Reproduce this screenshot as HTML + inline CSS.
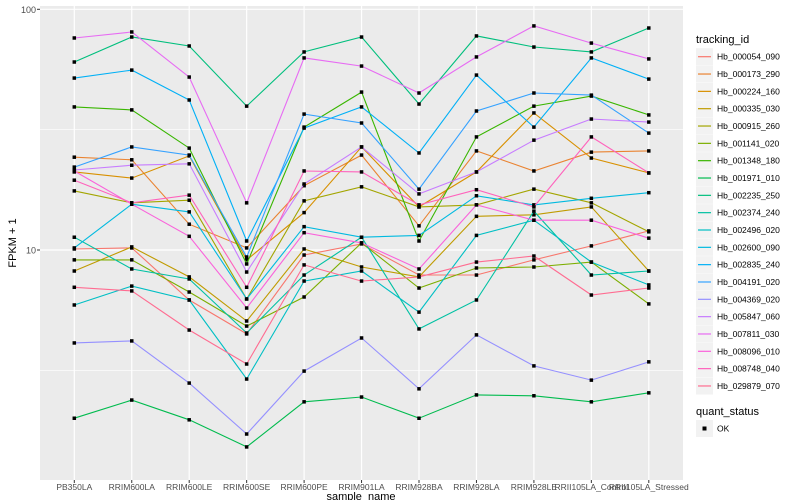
<!DOCTYPE html>
<html><head><meta charset="utf-8"><style>
body{margin:0;background:#fff;}
svg{display:block;font-family:"Liberation Sans",sans-serif;}
</style></head><body>
<svg id="chart" width="800" height="500" viewBox="0 0 800 500">
<rect x="40" y="6" width="643" height="474" fill="#ebebeb"/>
<g id="grid"></g><g id="series"></g><g id="axes"></g><g id="legend"></g>
</svg>
<script>
const categories=["PB350LA","RRIM600LA","RRIM600LE","RRIM600SE","RRIM600PE","RRIM901LA","RRIM928BA","RRIM928LA","RRIM928LE","RRII105LA_Control","RRII105LA_Stressed"];
const seriesNames=["Hb_000054_090","Hb_000173_290","Hb_000224_160","Hb_000335_030","Hb_000915_260","Hb_001141_020","Hb_001348_180","Hb_001971_010","Hb_002235_250","Hb_002374_240","Hb_002496_020","Hb_002600_090","Hb_002835_240","Hb_004191_020","Hb_004369_020","Hb_005847_060","Hb_007811_030","Hb_008096_010","Hb_008748_040","Hb_029879_070"];
const colors=["#F8766D","#EA8331","#D89000","#C09B00","#A3A500","#7CAE00","#39B600","#00BB4E","#00BF7D","#00C1A3","#00BFC4","#00BAE0","#00B0F6","#35A2FF","#9590FF","#C77CFF","#E76BF3","#FA62DB","#FF62BC","#FF6C91"];
const s01=[10.1,10.2,6.2,4.48,9.53,10.6,7.87,7.87,9.1,10.4,12.0];
const s02=[24.3,23.7,12.8,10.2,18.5,24.8,12.6,25.8,21.3,25.5,25.8];
const s03=[21.1,19.9,24.6,9.1,14.3,26.8,15.1,21.1,37.1,24.1,20.9];
const s04=[8.18,10.3,7.73,5.07,10.1,8.5,7.73,13.8,14.0,15.1,8.18];
const s05=[17.6,15.7,16.1,6.26,16.0,18.3,15.1,15.4,17.9,15.7,11.9];
const s06=[9.1,9.1,6.69,4.83,6.38,10.7,6.95,8.42,8.5,8.91,5.97];
const s07=[39.3,38.2,26.5,8.75,32.4,45.3,10.9,29.5,39.6,43.6,36.4];
const s08=[2.0,2.38,1.97,1.52,2.34,2.45,2.0,2.5,2.48,2.34,2.55];
const s09=[60.4,76.7,70.4,39.6,66.5,76.7,40.4,77.5,69.7,66.5,83.6];
const s10=[11.3,8.34,7.58,4.52,7.87,11.3,4.7,6.2,14.5,7.87,8.18];
const s11=[5.91,7.08,6.2,2.91,7.43,8.18,5.52,11.5,13.3,8.91,7.16];
const s12=[10.2,15.5,14.4,6.26,12.5,11.3,11.5,16.8,15.4,16.4,17.3];
const s13=[51.8,55.9,42.0,10.9,32.1,39.3,25.3,53.3,32.4,62.8,51.3];
const s14=[22.1,26.8,24.8,9.35,36.7,33.7,17.9,37.8,44.9,44.0,30.6];
const s15=[4.11,4.19,2.8,1.72,3.14,4.31,2.65,4.44,3.3,2.88,3.43];
const s16=[21.5,22.5,22.8,8.1,18.8,26.8,17.1,21.1,28.6,35.0,34.0];
const s17=[76,80.5,52.3,15.7,62.8,58.1,44.9,63.4,85.3,72.4,62.2];
const s18=[21.3,15.5,11.4,5.74,11.8,10.7,8.34,15.4,13.3,13.3,11.2];
const s19=[19.5,15.7,16.9,7.0,21.3,21.1,15.4,17.8,15.1,29.5,20.9];
const s20=[7.0,6.76,4.65,3.36,8.67,7.43,7.73,8.91,9.44,6.5,6.95];
const seriesValues=[s01,s02,s03,s04,s05,s06,s07,s08,s09,s10,s11,s12,s13,s14,s15,s16,s17,s18,s19,s20];
const yMajor=[10,100];
const yMinor=[3.1623,31.623];

const NS="http://www.w3.org/2000/svg";
function xScale(i){return 74.3+i*57.45;}
function yScale(v){return 250-240.7*Math.log10(v/10);}
function mk(tag,attrs,parent){const e=document.createElementNS(NS,tag);for(const k in attrs)e.setAttribute(k,attrs[k]);parent.appendChild(e);return e;}
const grid=document.getElementById('grid'),ser=document.getElementById('series'),axes=document.getElementById('axes'),leg=document.getElementById('legend');
yMinor.forEach(v=>{const l=mk('line',{x1:40,x2:683,y1:yScale(v),y2:yScale(v),stroke:'#fff','stroke-width':0.6},grid);

});
yMajor.forEach(v=>{const y=yScale(v);const l=mk('line',{x1:40,x2:683,y1:y,y2:y,stroke:'#fff','stroke-width':1.2},grid);


const t=mk('text',{x:36,y:y+3.5,'text-anchor':'end','font-size':9,fill:'#4d4d4d'},axes);t.textContent=String(v);


const tk=mk('line',{x1:37,x2:40,y1:y,y2:y,stroke:'#333','stroke-width':1},axes);

});
categories.forEach((c,i)=>{const x=xScale(i);const l=mk('line',{x1:x,x2:x,y1:6,y2:480,stroke:'#fff','stroke-width':1.2},grid);


const tk=mk('line',{x1:x,x2:x,y1:480,y2:483,stroke:'#333','stroke-width':1},axes);


const t=mk('text',{x:x,y:490,'text-anchor':'middle','font-size':8.5,fill:'#4d4d4d'},axes);t.textContent=c;

});
seriesValues.forEach((vals,s)=>{const g=mk('g',{},ser);


const pts=vals.map((v,i)=>xScale(i).toFixed(1)+','+yScale(v).toFixed(1)).join(' ');
const pl=mk('polyline',{points:pts,fill:'none',stroke:colors[s],'stroke-width':1.1},g);


vals.forEach((v,i)=>{const r=mk('rect',{x:xScale(i)-1.75,y:yScale(v)-1.75,width:3.5,height:3.5,fill:'#000'},g);

});});
let t=mk('text',{x:696,y:43,'font-size':11,fill:'#000'},leg);t.textContent='tracking_id';


seriesNames.forEach((n,i)=>{const y=56.7+i*17.33;const g=mk('g',{},leg);


mk('rect',{x:696,y:y-8.5,width:17,height:17,fill:'#f2f2f2'},g);
mk('line',{x1:698,x2:711,y1:y,y2:y,stroke:colors[i],'stroke-width':1.2},g);
const tt=mk('text',{x:717,y:y+3,'font-size':8.5,fill:'#000'},g);tt.textContent=n;});
t=mk('text',{x:696,y:415,'font-size':11,fill:'#000'},leg);t.textContent='quant_status';


const g2=mk('g',{},leg);


mk('rect',{x:696,y:420,width:17,height:17,fill:'#f2f2f2'},g2);
mk('rect',{x:702.5,y:426.5,width:4,height:4,fill:'#000'},g2);
const ok=mk('text',{x:717,y:431.5,'font-size':8.5,fill:'#000'},g2);ok.textContent='OK';
t=mk('text',{x:361,y:500,'text-anchor':'middle','font-size':11,fill:'#000'},axes);t.textContent='sample_name';


t=mk('text',{x:0,y:0,'text-anchor':'middle','font-size':11,fill:'#000',transform:'translate(16,243) rotate(-90)'},axes);t.textContent='FPKM + 1';


</script>
</body></html>
